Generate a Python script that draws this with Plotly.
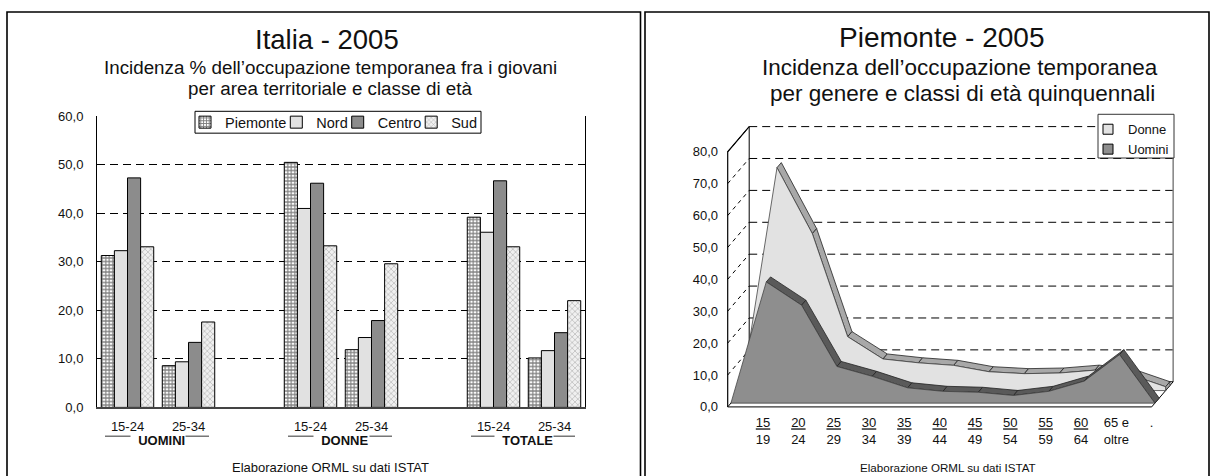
import plotly.graph_objects as go

W, H = 1213, 476

# ---------------- data: left chart (Italia 2005) ----------------
groups = ["UOMINI", "DONNE", "TOTALE"]
ages = ["15-24", "25-34"]
piemonte = [31.3, 8.6, 50.5, 11.9, 39.2, 10.2]
nord = [32.3, 9.4, 41.0, 14.4, 36.1, 11.7]
centro = [47.3, 13.4, 46.2, 17.9, 46.7, 15.4]
sud = [33.1, 17.6, 33.3, 29.6, 33.1, 22.0]
left_yticks = [0, 10, 20, 30, 40, 50, 60]

# ---------------- data: right chart (Piemonte 2005) ----------------
age_classes = ["", "15-19", "20-24", "25-29", "30-34", "35-39", "40-44",
               "45-49", "50-54", "55-59", "60-64", "65 e oltre", "."]
donne = [0, 69.9, 49.2, 16.9, 9.9, 8.7, 7.9, 5.9, 5.3, 5.5, 6.4, 5.0, 1.2]
uomini = [0, 38.0, 30.7, 11.5, 8.4, 4.8, 3.7, 3.4, 2.4, 3.7, 6.9, 15.2, 0]
right_yticks = [0, 10, 20, 30, 40, 50, 60, 70, 80]

FONT = "Liberation Sans, Arial, sans-serif"
INK = "#111111"

# vertical mapping observed between the page and its photograph
SQ_A, SQ_B = 5.03, 0.9747


def pxx(x):
    return x / W


def pxy(y):
    return 1 - ((y - SQ_A) / SQ_B) / H


fig = go.Figure()

# ---------------- left chart: grouped bars ----------------
pos = [g * 3 + a for g in range(len(groups)) for a in range(len(ages))]
tick_text = [ages[a] for g in range(len(groups)) for a in range(len(ages))]
series = [
    ("Piemonte", piemonte, dict(color="#ffffff", pattern=dict(
        shape="+", fgcolor="#000000", bgcolor="#ffffff", size=3.5, solidity=0.55))),
    ("Nord", nord, dict(color="#e1e1e1")),
    ("Centro", centro, dict(color="#8c8c8c")),
    ("Sud", sud, dict(color="#ffffff", pattern=dict(
        shape="x", fgcolor="#6e6e6e", bgcolor="#f0f0f0", size=4, solidity=0.28))),
]
legend_ids = ["legend", "legend2", "legend3", "legend4"]
for i, (name, vals, mk) in enumerate(series):
    mk["line"] = dict(color="#000000", width=1)
    fig.add_trace(go.Bar(x=pos, y=vals, name=name, marker=mk,
                         legend=legend_ids[i], xaxis="x", yaxis="y",
                         hoverinfo="skip"))

# ---------------- right chart: 3D-looking area chart ----------------
CAT_PX, VAL_PX = 35.33, 3.21
DEPTH_PX = (21.5, -25.3)
DX = DEPTH_PX[0] / CAT_PX
DY = -DEPTH_PX[1] / VAL_PX
FX0, Y0 = 727.7, 407.5
XD0, XD1 = 720, 1200
YD_TOP, YD_BOT = 112, 412
n_last = len(age_classes) - 1
vmax = right_yticks[-1]


def proj(k, v, d):
    return k + d * DX, v + d * DY


def poly(pts, fill=None, color="#000", width=1.0, dash=None, closed=True):
    xs = [p[0] for p in pts]
    ys = [p[1] for p in pts]
    if closed:
        xs.append(xs[0])
        ys.append(ys[0])
    return go.Scatter(x=xs, y=ys, xaxis="x2", yaxis="y2", mode="lines",
                      fill="toself" if fill else None, fillcolor=fill,
                      line=dict(color=color if width > 0 else "rgba(0,0,0,0)",
                                width=max(width, 0.1), dash=dash),
                      hoverinfo="skip", showlegend=False)


DASH = "8px,5px"
# side wall and back wall
fig.add_trace(poly([proj(0, 0, 0), proj(0, vmax, 0), proj(0, vmax, 1), proj(0, 0, 1)],
                   fill="#ffffff", width=0))
fig.add_trace(poly([proj(0, 0, 1), proj(n_last, 0, 1), proj(n_last, vmax, 1), proj(0, vmax, 1)],
                   fill="#ffffff", width=0))
for v in right_yticks[1:]:
    fig.add_trace(poly([proj(0, v, 1), proj(n_last, v, 1)], color="#000", width=1,
                       dash=DASH, closed=False))
    fig.add_trace(poly([proj(0, v, 0), proj(0, v, 1)], color="#000", width=1,
                       dash="4px,4px", closed=False))
fig.add_trace(poly([proj(0, 0, 1), proj(0, vmax, 1)], color="#000", width=1, closed=False))
fig.add_trace(poly([proj(n_last, 0, 1), proj(n_last, vmax, 1)], color="#808080", width=1.5,
                   closed=False))
fig.add_trace(poly([proj(0, 0, 0), proj(0, vmax, 0), proj(0, vmax, 1)], color="#000",
                   width=1.2, closed=False))
# floor
fig.add_trace(poly([proj(0, 0, 0), proj(n_last, 0, 0), proj(n_last, 0, 1), proj(0, 0, 1)],
                   fill="#ffffff", color="#000", width=1))


def visible(v0, v1):
    sx, sy = CAT_PX, -(v1 - v0) * VAL_PX
    return sx * DEPTH_PX[1] - sy * DEPTH_PX[0] < 0


def slab(vals, d0, d1, front_col, top_col):
    n = len(vals)
    for k in range(n - 1):
        if visible(vals[k], vals[k + 1]):
            fig.add_trace(poly([proj(k, vals[k], d0), proj(k + 1, vals[k + 1], d0),
                                proj(k + 1, vals[k + 1], d1), proj(k, vals[k], d1)],
                               fill=top_col, color="#222", width=0.8))
    if vals[-1] > 0:
        fig.add_trace(poly([proj(n - 1, 0, d0), proj(n - 1, vals[-1], d0),
                            proj(n - 1, vals[-1], d1), proj(n - 1, 0, d1)],
                           fill=top_col, color="#222", width=0.8))
    pts = [proj(0, 0, d0)] + [proj(k, vals[k], d0) for k in range(n)] + [proj(n - 1, 0, d0)]
    fig.add_trace(poly(pts, fill=front_col, color="#444", width=0.8))


slab(donne, 0.65, 0.85, "#e2e2e2", "#a8a8a8")
slab(uomini, 0.15, 0.35, "#8e8e8e", "#5a5a5a")

# legend entries for right chart
fig.add_trace(go.Scatter(x=[None], y=[None], xaxis="x2", yaxis="y2", mode="markers",
                         name="Donne", legend="legend5",
                         marker=dict(symbol="square", size=10, color="#e2e2e2",
                                     line=dict(color="#000", width=1))))
fig.add_trace(go.Scatter(x=[None], y=[None], xaxis="x2", yaxis="y2", mode="markers",
                         name="Uomini", legend="legend5",
                         marker=dict(symbol="square", size=10, color="#8e8e8e",
                                     line=dict(color="#000", width=1))))


def fmt_age(a):
    if "-" in a:
        lo, hi = a.split("-")
        return f"<u>{lo}</u><br>{hi}"
    if " e " in a:
        first, rest = a.split(" e ")
        return f"{first} e<br>{rest}"
    return a


r_tickvals = [k for k, a in enumerate(age_classes) if a]
r_ticktext = [fmt_age(age_classes[k]) for k in r_tickvals]

# ---------------- layout ----------------
leg_common = dict(orientation="h", bgcolor="rgba(0,0,0,0)", borderwidth=0,
                  font=dict(family=FONT, size=14.5, color=INK), xanchor="left",
                  yanchor="middle", y=pxy(121))
leg_x = [185, 276.3, 337.7, 411.2]
layout_legends = {lid: dict(leg_common, x=pxx(x)) for lid, x in zip(legend_ids, leg_x)}
layout_legends["legend5"] = dict(orientation="v", bgcolor="rgba(0,0,0,0)", borderwidth=0,
                                 font=dict(family=FONT, size=13, color=INK),
                                 xanchor="left", yanchor="top", x=pxx(1088), y=pxy(113),
                                 tracegroupgap=0)

fig.update_layout(
    width=W, height=H, autosize=False, margin=dict(l=0, r=0, t=0, b=0, pad=0),
    paper_bgcolor="white", plot_bgcolor="rgba(0,0,0,0)",
    barmode="group", bargap=0.14, bargroupgap=0, separators=",.",
    font=dict(family=FONT, size=13, color=INK), hovermode=False, showlegend=True,
    xaxis=dict(domain=[pxx(97), pxx(585)], range=[-0.5, len(groups) * 3 - 1.5],
               tickvals=pos, ticktext=tick_text, showline=True, linecolor="#444",
               linewidth=1.5, ticks="", showgrid=False, zeroline=False,
               tickfont=dict(size=13), ticklabelstandoff=6, anchor="y"),
    yaxis=dict(domain=[pxy(408), pxy(115)], range=[0, left_yticks[-1]],
               tickvals=left_yticks, tickformat=".1f", showgrid=True, gridcolor="#000",
               griddash=DASH, gridwidth=1, showline=True, mirror=True, linecolor="#000",
               linewidth=1, ticks="", ticklabelstandoff=10, zeroline=False,
               tickfont=dict(size=13), anchor="x"),
    xaxis2=dict(domain=[pxx(XD0), pxx(XD1)],
                range=[(XD0 - FX0) / CAT_PX, (XD1 - FX0) / CAT_PX],
                tickvals=r_tickvals, ticktext=r_ticktext, showgrid=False, zeroline=False,
                showline=False, ticks="", tickfont=dict(size=13), anchor="y2",
                ticklabelstandoff=2),
    yaxis2=dict(domain=[pxy(YD_BOT), pxy(YD_TOP)],
                range=[(Y0 - YD_BOT) / VAL_PX, (Y0 - YD_TOP) / VAL_PX],
                tickvals=right_yticks, tickformat=".1f", showgrid=False, zeroline=False,
                showline=False, ticks="", tickfont=dict(size=13), anchor="x2",
                ticklabelstandoff=1),
    **layout_legends,
)

# group labels under the left chart
ann = []
shapes = []
for g, name in enumerate(groups):
    left = g * 3 - 0.5 + 8 / 61
    right = g * 3 + 1.5 - 10 / 61
    shapes.append(dict(type="line", xref="x", yref="paper", x0=left, x1=right,
                       y0=pxy(437), y1=pxy(437), line=dict(color="#777", width=1.5),
                       layer="above"))
    ann.append(dict(x=g * 3 + 0.5, y=pxy(441.5), xref="x", yref="paper",
                    text="\u00a0\u00a0" + name, showarrow=False, bgcolor="white",
                    borderpad=0, font=dict(family=FONT, size=13, color=INK,
                                           weight="bold"),
                    xanchor="center", yanchor="middle"))

# titles
titles = [
    ("Italia - 2005", 327, 38, 27.5),
    ("Incidenza % dell\u2019occupazione temporanea fra i giovani", 331, 66, 18.8),
    ("per area territoriale e classe di et\u00e0", 331, 87, 18.8),
    ("Piemonte - 2005", 941, 36, 28),
    ("Incidenza dell\u2019occupazione temporanea", 960, 66, 22.5),
    ("per genere e classi di et\u00e0 quinquennali", 962, 92, 22.5),
    ("Elaborazione ORML su dati ISTAT", 331, 468, 13),
    ("Elaborazione ORML su dati ISTAT", 948, 468, 11.6),
]
for text, x, y, size in titles:
    ann.append(dict(x=pxx(x), y=pxy(y), xref="paper", yref="paper", text=text,
                    showarrow=False, xanchor="center", yanchor="middle",
                    font=dict(family=FONT, size=size, color=INK)))

# legend boxes and panel borders
shapes.append(dict(type="rect", xref="paper", yref="paper", x0=pxx(195), x1=pxx(481),
                   y0=pxy(132), y1=pxy(110), line=dict(color="#000", width=1),
                   fillcolor="white", layer="above"))
shapes.append(dict(type="rect", xref="paper", yref="paper", x0=pxx(1098), x1=pxx(1174),
                   y0=pxy(157), y1=pxy(113), line=dict(color="#333", width=1),
                   fillcolor="white", layer="above"))
shapes.append(dict(type="rect", xref="paper", yref="paper", x0=pxx(7), x1=pxx(640.5),
                   y0=pxy(500), y1=pxy(10), line=dict(color="#000", width=1.6)))
shapes.append(dict(type="rect", xref="paper", yref="paper", x0=pxx(645), x1=pxx(1209),
                   y0=pxy(500), y1=pxy(10), line=dict(color="#000", width=1.6)))

fig.update_layout(annotations=ann, shapes=shapes)

post = ("var s=document.createElement('style');"
        "s.innerHTML='html,body{margin:0;padding:0;overflow:hidden;width:1213px;height:476px;}';"
        "document.head.appendChild(s);"
        "var d=document.getElementById('{plot_id}');"
        "d.style.position='absolute';d.style.left='0px';d.style.top='0px';")
fig.write_html("out.html", config={"displayModeBar": False, "staticPlot": True},
               post_script=post)
